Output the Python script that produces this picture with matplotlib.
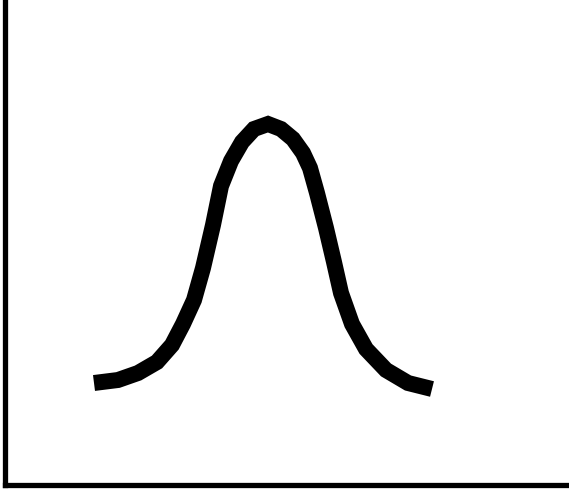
import matplotlib
matplotlib.use("Agg")
import matplotlib.pyplot as plt

# Bell curve sketched as a polyline, left flank then right flank
left_x = [94, 118, 138, 157, 172, 183, 194, 203, 213, 221, 231, 242, 254, 268]
left_y = [102, 105, 112, 123, 140, 161, 185, 217, 260, 299, 324, 343, 356, 361]
right_x = [281, 293, 303, 310, 317, 326, 334, 341, 352, 366, 386, 408, 432]
right_y = [356, 346, 332, 317, 292, 257, 223, 192, 161, 136, 115, 102, 96]

fig = plt.figure(figsize=(5.69, 4.90), dpi=100)
ax = fig.add_axes([5 / 569, 5 / 490, 1 - 5 / 569, 1 - 5 / 490])

ax.plot(left_x + right_x, left_y + right_y, color="black", linewidth=11.5,
        solid_capstyle="butt", solid_joinstyle="miter")

ax.set_xlim(5, 569)
ax.set_ylim(0, 485)
ax.set_xticks([])
ax.set_yticks([])
for side in ["top", "right"]:
    ax.spines[side].set_visible(False)
for side in ["left", "bottom"]:
    ax.spines[side].set_linewidth(3.8)
    ax.spines[side].set_color("black")

fig.savefig("out.png", dpi=100)
